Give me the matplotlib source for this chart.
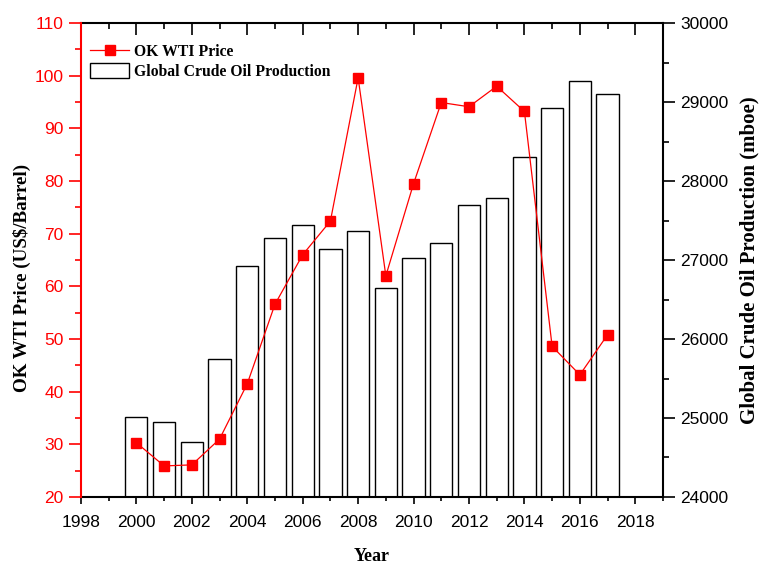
import matplotlib
matplotlib.use('Agg')
import matplotlib.pyplot as plt
from matplotlib.ticker import MultipleLocator

# Yearly data
years = [2000, 2001, 2002, 2003, 2004, 2005, 2006, 2007, 2008,
         2009, 2010, 2011, 2012, 2013, 2014, 2015, 2016, 2017]
wti_price = [30.3, 25.9, 26.1, 31.0, 41.5, 56.6, 66.0, 72.4, 99.6,
             62.0, 79.5, 94.9, 94.1, 98.0, 93.2, 48.6, 43.2, 50.8]
production = [25010, 24945, 24700, 25750, 26925, 27280, 27440, 27140, 27370,
              26640, 27020, 27215, 27700, 27785, 28300, 28930, 29265, 29105]

serif = ['Liberation Serif', 'DejaVu Serif']
sans = ['Liberation Sans', 'DejaVu Sans']
red = '#ff0000'

fig = plt.figure(figsize=(7.59, 5.64), dpi=100)
ax1 = fig.add_axes([0.1067, 0.1188, 0.7668, 0.8404])
ax2 = ax1.twinx()

# production bars behind the price line
bars = ax2.bar(years, production, width=0.8, color='white', edgecolor='black',
               linewidth=1.0, label='Global Crude Oil Production')
ax2.set_ylim(24000, 30000)
ax2.yaxis.set_major_locator(MultipleLocator(1000))
ax2.yaxis.set_minor_locator(MultipleLocator(500))
ax2.tick_params(axis='y', which='major', direction='out', length=8.5, width=1.2,
                labelsize=12.5, pad=4)
ax2.tick_params(axis='y', which='minor', direction='out', length=4.5, width=1.2)
for lbl in ax2.get_yticklabels():
    lbl.set_family(sans)
ax2.set_ylabel('Global Crude Oil Production (mboe)', family=serif,
               fontweight='bold', fontsize=15)
ax2.yaxis.set_label_coords(1.131, 0.5)
ax2.spines['right'].set_linewidth(1.5)
ax2.spines['left'].set_visible(False)
ax2.spines['top'].set_linewidth(1.5)
ax2.spines['bottom'].set_linewidth(1.5)

ax1.set_zorder(ax2.get_zorder() + 1)
ax1.patch.set_visible(False)
line, = ax1.plot(years, wti_price, color=red, linewidth=0.9, marker='s',
                 markersize=6.5, markeredgecolor=red, label='OK WTI Price')
ax1.set_ylim(20, 110)
ax1.yaxis.set_major_locator(MultipleLocator(10))
ax1.yaxis.set_minor_locator(MultipleLocator(5))
ax1.tick_params(axis='y', which='major', direction='out', length=8.5, width=1.2,
                colors=red, labelsize=12.5, pad=4)
ax1.tick_params(axis='y', which='minor', direction='out', length=4.5, width=1.2,
                colors=red)
ax1.spines['left'].set_color(red)
ax1.spines['left'].set_linewidth(1.5)
for side in ['top', 'right', 'bottom']:
    ax1.spines[side].set_visible(False)
ax1.set_ylabel('OK WTI Price (US$/Barrel)', family=serif, fontweight='bold',
               fontsize=13.7)
ax1.yaxis.set_label_coords(-0.086, 0.462)

ax1.set_xlim(1998, 2019)
ax1.xaxis.set_major_locator(MultipleLocator(2))
ax1.xaxis.set_minor_locator(MultipleLocator(1))
ax1.tick_params(axis='x', which='major', direction='out', length=5, width=1.2,
                labelsize=12.5, pad=8)
ax1.tick_params(axis='x', which='minor', direction='out', length=3, width=1.2)
for lbl in ax1.get_yticklabels() + ax1.get_xticklabels():
    lbl.set_family(sans)
ax1.set_xlabel('Year', family=serif, fontweight='bold', fontsize=13, labelpad=13)

# inward ticks along the top edge
top = ax1.secondary_xaxis('top')
top.xaxis.set_major_locator(MultipleLocator(2))
top.xaxis.set_minor_locator(MultipleLocator(1))
top.tick_params(axis='x', which='major', direction='in', length=8.5, width=1.2,
                labeltop=False)
top.tick_params(axis='x', which='minor', direction='in', length=4, width=1.2)
top.spines['top'].set_visible(False)

ax1.legend(handles=[line, bars], loc='upper left', frameon=False,
           prop={'family': serif, 'weight': 'bold', 'size': 11.3},
           handlelength=2.5, handleheight=1.15, handletextpad=0.3,
           labelspacing=0.15, borderpad=0, borderaxespad=0,
           bbox_to_anchor=(0.0155, 0.957))

fig.savefig('out.png', dpi=100)
